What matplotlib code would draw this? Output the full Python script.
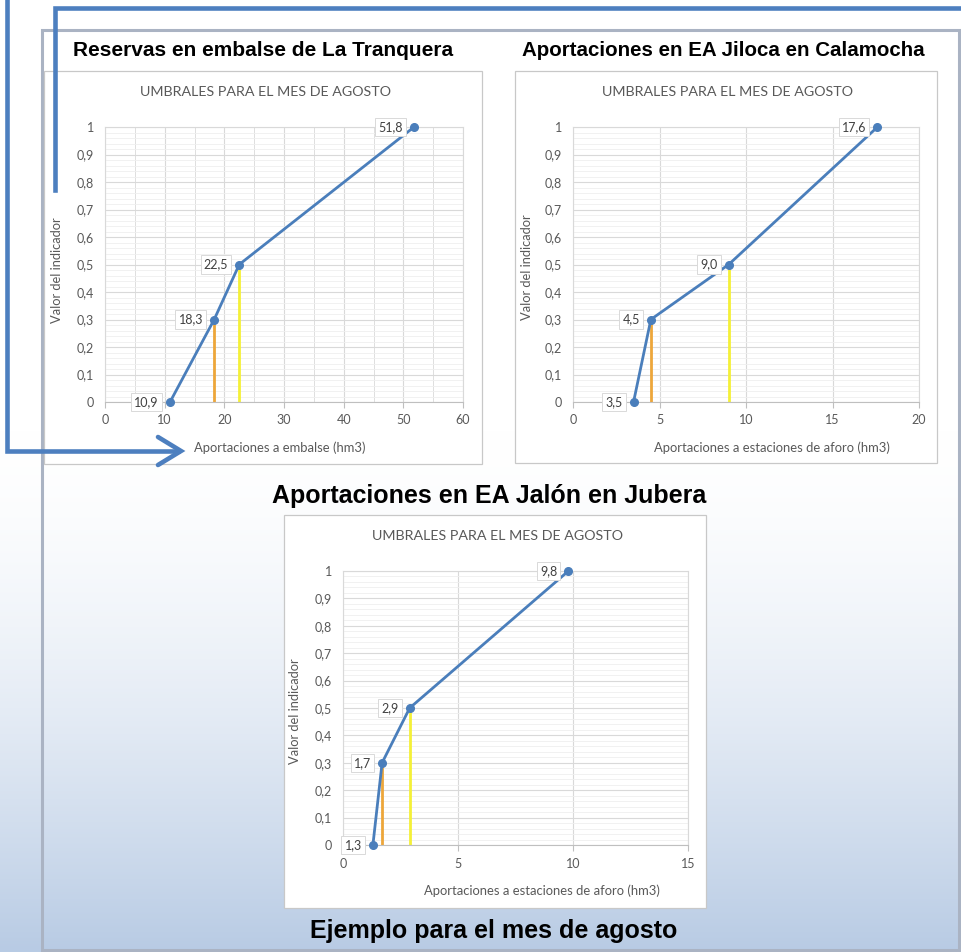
import numpy as np
import matplotlib
matplotlib.use('Agg')
import matplotlib.pyplot as plt
from matplotlib.patches import Rectangle
from matplotlib.ticker import MultipleLocator, FuncFormatter

W, H = 961, 952

# umbrales del mes de agosto (aportaciones en hm3)
tranquera_x = [10.9, 18.3, 22.5, 51.8]
jiloca_x = [3.5, 4.5, 9.0, 17.6]
jalon_x = [1.3, 1.7, 2.9, 9.8]
indicador_y = [0, 0.3, 0.5, 1]

titulos = ['Reservas en embalse de La Tranquera',
           'Aportaciones en EA Jiloca en Calamocha',
           'Aportaciones en EA Jalón en Jubera']
xlabels = ['Aportaciones a embalse (hm3)',
           'Aportaciones a estaciones de aforo (hm3)',
           'Aportaciones a estaciones de aforo (hm3)']
subtitulo = 'UMBRALES PARA EL MES DE AGOSTO'
ylabel = 'Valor del indicador'
pie = 'Ejemplo para el mes de agosto'

AZUL = '#4a7ebb'
GRIS = '#595959'
FUENTE = 'Lato'

fig = plt.figure(figsize=(W / 100, H / 100), dpi=100)

# fondo en pixeles
bg = fig.add_axes([0, 0, 1, 1])
bg.set_xlim(0, W)
bg.set_ylim(H, 0)
bg.axis('off')

yy = np.arange(H)
t = np.clip((yy - 430) / (950 - 430), 0, 1) ** 1.6
fin = np.array([184, 203, 228]) / 255
grad = (1 - t)[:, None] * np.ones(3) + t[:, None] * fin
bg.imshow(grad[:, None, :], extent=(0, W, H, 0), aspect='auto', zorder=0)

bg.add_patch(Rectangle((42, 30), 917, 920, fill=False, ec='#aab3c3', lw=2.2, zorder=1))

# cajas de cada grafico
cajas = [(44, 71, 482, 464), (515, 71, 937, 463), (284, 515, 706, 908)]
for l, tp, r, b in cajas:
    bg.add_patch(Rectangle((l, tp), r - l, b - tp, fc='white', ec='#c8c8c8', lw=0.9, zorder=2))

# titulos grandes
bg.text(263, 50, titulos[0], ha='center', va='center', fontsize=15, fontweight='bold',
        family='Liberation Sans', color='black', zorder=5)
bg.text(723, 51, titulos[1], ha='center', va='center', fontsize=14.8, fontweight='bold',
        family='Liberation Sans', color='black', zorder=5)
bg.text(489, 496, titulos[2], ha='center', va='center', fontsize=18, fontweight='bold',
        family='Liberation Sans', color='black', zorder=5)
bg.text(494, 931, pie, ha='center', va='center', fontsize=18, fontweight='bold',
        family='Liberation Sans', color='black', zorder=5)

# textos de cada grafico (subtitulo, eje y, eje x)
pos_sub = [(266, 92), (728, 92), (497, 536)]
pos_y = [(57, 270), (527, 267), (295, 711)]
pos_x = [(280, 448), (772, 448), (542, 891)]
for i in range(3):
    bg.text(*pos_sub[i], subtitulo, ha='center', va='center', fontsize=10.3, color=GRIS, family=FUENTE, zorder=5)
    bg.text(*pos_y[i], ylabel, ha='center', va='center', rotation=90, fontsize=9.3, color=GRIS, family=FUENTE, zorder=5)
    bg.text(*pos_x[i], xlabels[i], ha='center', va='center', fontsize=9.4, color=GRIS, family=FUENTE, zorder=5)

# flechas azules
bg.plot([55, 55, 961], [190, 8, 8], color='#4d7fbf', lw=3.3, solid_joinstyle='miter', zorder=6)
bg.plot([7, 7, 178], [0, 451, 451], color='#4d7fbf', lw=3.3, solid_joinstyle='miter', zorder=6)
bg.plot([158, 181, 158], [437, 451, 465], color='#4d7fbf', lw=3.3, solid_joinstyle='miter',
        solid_capstyle='round', zorder=6)


def px_axes(l, tp, r, b):
    return fig.add_axes([l / W, 1 - b / H, (r - l) / W, (b - tp) / H])


def coma(v, p):
    return ('%g' % round(v, 2)).replace('.', ',')


def grafico(ax, xs, xmax, xmajor, xminor=None):
    ax.set_xlim(0, xmax)
    ax.set_ylim(0, 1)
    ax.xaxis.set_major_locator(MultipleLocator(xmajor))
    if xminor:
        ax.xaxis.set_minor_locator(MultipleLocator(xminor))
    ax.yaxis.set_major_locator(MultipleLocator(0.1))
    ax.yaxis.set_minor_locator(MultipleLocator(0.02))
    ax.yaxis.set_major_formatter(FuncFormatter(coma))
    ax.grid(which='major', color='#d9d9d9', lw=0.8)
    ax.grid(which='minor', axis='y', color='#efefef', lw=0.6)
    if xminor:
        ax.grid(which='minor', axis='x', color='#dedede', lw=0.7)
    ax.set_axisbelow(True)
    for s in ['top', 'right', 'left']:
        ax.spines[s].set_color('#d9d9d9')
        ax.spines[s].set_linewidth(0.8)
    ax.spines['bottom'].set_color('#bfbfbf')
    ax.tick_params(which='minor', length=0)
    ax.tick_params(axis='y', length=0, pad=8, labelsize=9, labelcolor=GRIS)
    ax.tick_params(axis='x', length=4, color='#bfbfbf', pad=5, labelsize=9, labelcolor=GRIS)
    for lab in ax.get_xticklabels() + ax.get_yticklabels():
        lab.set_family(FUENTE)

    # lineas verticales de los umbrales intermedios
    ax.vlines(xs[1], 0, indicador_y[1], color='#eda63a', lw=2, zorder=2)
    ax.vlines(xs[2], 0, indicador_y[2], color='#f4f037', lw=2, zorder=2)
    ax.plot(xs, indicador_y, color=AZUL, lw=2, marker='o', ms=5.5, zorder=3, clip_on=False)

    for x, y in zip(xs, indicador_y):
        ax.annotate(('%.1f' % x).replace('.', ','), (x, y), xytext=(-8, 0), textcoords='offset points',
                    ha='right', va='center', fontsize=9, color='#404040', family=FUENTE, zorder=4,
                    bbox=dict(boxstyle='square,pad=0.25', fc='white', ec='#d9d9d9', lw=0.7))


ax1 = px_axes(105, 127, 463, 402)
grafico(ax1, tranquera_x, 60, 10, 5)
ax2 = px_axes(573, 127, 919, 402)
grafico(ax2, jiloca_x, 20, 5)
ax3 = px_axes(343, 571, 688, 845)
grafico(ax3, jalon_x, 15, 5)

fig.savefig('out.png', dpi=100)
